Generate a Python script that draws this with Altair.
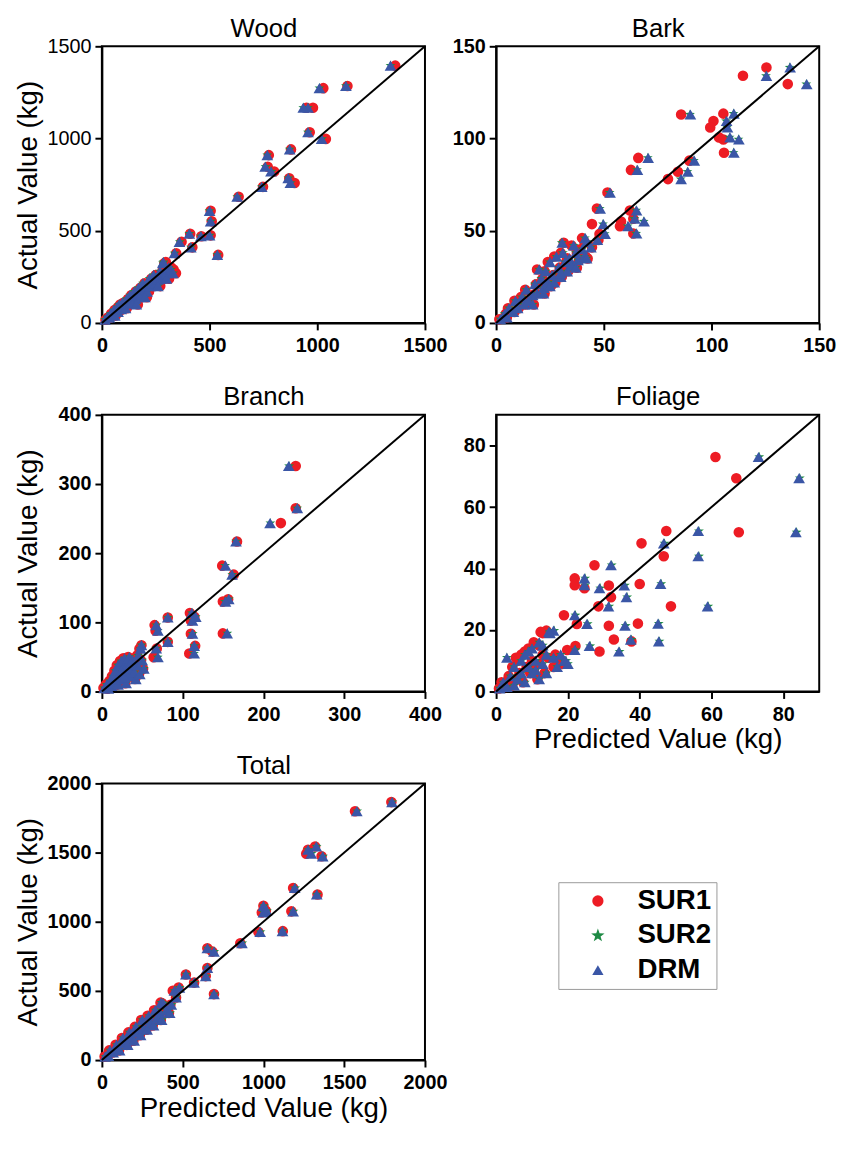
import altair as alt
import pandas as pd

MODELS = ["SUR1", "SUR2", "DRM"]
COLORS = ["#ED1C24", "#1E8A44", "#3A56A6"]
STAR = ("M0,-1.25L0.294,-0.405L1.189,-0.386L0.475,0.155L0.735,1.011L0,0.5"
        "L-0.735,1.011L-0.475,0.155L-1.189,-0.386L-0.294,-0.405Z")
SHAPES = ["circle", STAR, "triangle-up"]
SIZES = [115, 70, 140]
FONT = "Liberation Sans"

# ---------------- Wood ----------------
wood_actual = [1395, 1273, 1285, 1167, 1167, 1034, 998, 941, 910, 847, 821, 785, 759, 738, 684, 608, 551, 475, 470, 484, 440, 410, 369, 378, 324,
               18, 30, 30, 50, 45, 70, 40, 85, 60, 100, 75, 110, 90, 80, 130, 105, 150, 110, 125, 170, 130, 150, 190, 140, 165, 215, 180, 170, 240, 200, 215, 260, 220, 235, 280, 240, 330, 265, 270, 300, 290, 270, 200, 240, 140, 100]
wood_sur1 = [1362, 1028, 1140, 980, 950, 965, 1040, 878, 775, 770, 800, 870, 895, 748, 635, 505, 510, 505, 462, 410, 370, 420, 540, 345, 290,
             17, 28, 38, 43, 53, 59, 64, 74, 79, 85, 95, 100, 105, 116, 121, 126, 136, 141, 147, 157, 162, 172, 178, 183, 193, 198, 209, 219, 229, 235, 245, 250, 261, 271, 281, 287, 297, 302, 312, 323, 333, 344, 271, 312, 209, 167]
wood_sur2 = [1340, 1010, 1133, 957, 935, 957, 1022, 872, 768, 760, 787, 866, 877, 743, 629, 500, 506, 501, 460, 406, 362, 414, 536, 338, 284,
             15, 25, 35, 41, 50, 56, 60, 71, 75, 81, 90, 96, 100, 111, 116, 121, 131, 136, 141, 151, 156, 166, 171, 176, 186, 191, 201, 211, 221, 226, 236, 241, 251, 261, 271, 276, 286, 291, 301, 311, 321, 331, 261, 301, 201, 161]
wood_drm = [1340, 1010, 1133, 957, 935, 957, 1020, 872, 768, 758, 785, 865, 875, 742, 628, 500, 505, 500, 460, 406, 360, 413, 536, 337, 283,
            15, 25, 35, 40, 50, 55, 60, 70, 75, 80, 90, 95, 100, 110, 115, 120, 130, 135, 140, 150, 155, 165, 170, 175, 185, 190, 200, 210, 220, 225, 235, 240, 250, 260, 270, 275, 285, 290, 300, 310, 320, 330, 260, 300, 200, 160]
wood_line = [0, 1500]
wood_ticks = [0, 500, 1000, 1500]

# ---------------- Bark ----------------
bark_actual = [138.5, 134, 129.5, 113, 113.5, 109.5, 106, 100.6, 99.5, 92.3, 89.5, 83, 78, 82, 88, 70.7, 62, 61, 56.5, 55, 52.5, 48.5, 53.6, 46, 48.3, 43.5,
               2, 5, 3, 8, 6, 12, 8, 14, 10, 18, 12, 15, 21, 16, 29, 24, 19, 28, 22, 33, 26, 22, 36, 30, 25, 38, 33, 28, 35, 31, 42, 38, 34, 40, 36, 44, 41, 20, 27, 16, 30, 10, 35, 45]
bark_sur1 = [125.5, 114.6, 135.4, 85.9, 105.5, 100.9, 99.4, 103.5, 105.5, 105.8, 66, 62.6, 79.8, 84.4, 89.7, 51.7, 46.8, 62.1, 63.7, 58, 57.5, 63.7, 44.5, 39.9, 48, 31.4,
             1.5, 4.5, 5, 5.5, 8.5, 8.5, 10.5, 11.5, 13.5, 13.5, 15.5, 16.5, 18.5, 18.5, 19, 21.5, 22.5, 22.5, 24.5, 24, 26.5, 27.5, 27, 29.5, 30.5, 30, 32.5, 33.5, 33, 35.5, 35, 37.5, 38.5, 39, 41.5, 41, 44.5, 25.5, 30.5, 22.5, 37.5, 17.5, 42.5, 47.5]
bark_sur2 = [136.3, 125.3, 144, 90, 110.2, 106.8, 107.2, 108.4, 112.5, 110.2, 70.4, 65.4, 85.7, 88.8, 91.8, 52.7, 48.1, 65, 64.2, 68.5, 61.1, 65, 49.6, 41.2, 50.4, 30.5,
             2, 4, 5, 6, 8, 9, 10, 12, 13, 14, 15, 17, 18, 19, 20, 21, 22, 23, 24, 25, 26, 27, 28, 29, 30, 31, 32, 33, 34, 35, 36, 37, 38, 40, 41, 42, 44, 25, 30, 22, 37, 17, 42, 47]
bark_drm = [136.5, 125.5, 144.2, 90.2, 110.4, 107, 107.4, 108.6, 112.7, 110.4, 70.6, 65.6, 85.9, 89, 92, 52.9, 48.3, 65.2, 64.4, 68.7, 61.3, 65.2, 49.8, 41.4, 50.6, 30.7,
            2, 4, 5, 6, 8, 9, 10, 12, 13, 14, 15, 17, 18, 19, 20, 21, 22, 23, 24, 25, 26, 27, 28, 29, 30, 31, 32, 33, 34, 35, 36, 37, 38, 40, 41, 42, 44, 25, 30, 22, 37, 17, 42, 47]
bark_line = [0, 150]
bark_ticks = [0, 50, 100, 150]

# ---------------- Branch ----------------
branch_actual = [326, 265, 243.5, 217, 182, 169, 133.5, 130, 84, 113.5, 102.5, 108, 83.6, 66, 55, 107, 71.8, 96, 88, 62.3, 49.5, 67,
                 5, 10, 4, 15, 8, 22, 12, 30, 16, 38, 10, 25, 44, 18, 35, 48, 28, 12, 40, 50, 22, 33, 45, 28, 18, 38, 52, 25, 62, 45, 33, 20, 30, 42]
branch_sur1 = [240, 240, 221.6, 167.3, 149, 163.3, 156.3, 149.8, 149.8, 109, 110.2, 114.5, 110.2, 115.5, 108.2, 81.6, 81.6, 65.3, 66.5, 68, 64.1, 49,
               2, 5, 7, 9, 11, 12.5, 14, 15.5, 17, 18.5, 19, 21, 22.5, 24, 25.5, 26.5, 28.5, 29, 30.5, 32.5, 33.5, 35, 36.5, 38.5, 41, 42.5, 43.5, 46, 46.5, 48.5, 51, 27, 23, 35]
branch_sur2 = [231.8, 241.8, 208.6, 166.3, 152.6, 161.5, 157.3, 152.6, 155.3, 111.6, 112.4, 116.1, 112.4, 114.5, 114.1, 81.8, 81.8, 67.5, 69.2, 67.5, 69.2, 49.2,
               3, 6, 8, 10, 12, 14, 15, 17, 18, 20, 20, 22, 24, 25, 27, 28, 30, 30, 32, 34, 35, 36, 38, 40, 42, 44, 45, 47, 48, 50, 52, 28, 24, 36]
branch_drm = [231.4, 242, 208.2, 166.1, 153, 161.2, 157.1, 153, 155.1, 111.4, 112.2, 116.3, 112.2, 114.3, 114.3, 81.6, 81.6, 67.3, 69.4, 67.3, 69.4, 49,
              3, 6, 8, 10, 12, 14, 15, 17, 18, 20, 20, 22, 24, 25, 27, 28, 30, 30, 32, 34, 35, 36, 38, 40, 42, 44, 45, 47, 48, 50, 52, 28, 24, 36]
branch_line = [0, 400]
branch_ticks = [0, 100, 200, 300, 400]

# ---------------- Foliage ----------------
foliage_actual = [76.3, 69.4, 51.8, 52.2, 48.2, 44, 41.1, 36.8, 34.6, 33.6, 34.5, 35, 30.7, 27.7, 27.7, 24.8, 22, 22.1, 21.4, 16.9, 16.3, 14.8, 13, 13.5, 19.4, 19.8, 10,
                  1, 3, 1.5, 11, 5, 2, 8, 4, 10, 6, 3, 12, 8, 6, 14, 10, 4, 16, 9, 12, 6, 19, 11, 8, 12, 10, 9, 15, 7, 13]
foliage_sur1 = [61.1, 66.9, 67.6, 47.4, 40.5, 46.7, 27.4, 21.9, 21.9, 24.6, 31.4, 40, 32, 28.5, 48.7, 18.9, 22.5, 39.5, 31.4, 32.8, 37.7, 22.1, 28.8, 19.8, 12.4, 14, 17,
                0.8, 1.5, 2.5, 5.5, 3.5, 4.5, 4.5, 5.5, 6, 6.5, 7.5, 7, 8.5, 9.5, 9, 10, 11.5, 10.5, 12, 13, 13.5, 13, 14.5, 16, 16.5, 17.5, 18.5, 12, 10.5, 8]
foliage_sur2 = [73.3, 84.6, 83.7, 56.5, 46.9, 56.5, 32.2, 24.8, 24.8, 29, 35.9, 46, 36.5, 31.5, 59.1, 22.1, 25.5, 45.3, 36.1, 37.7, 45.5, 26.2, 34.4, 22.1, 14.9, 16.2, 19.5,
                1, 2, 3, 3, 4, 5, 5, 6, 7, 7, 8, 8, 9, 10, 10, 11, 12, 12, 13, 14, 14, 15, 16, 17, 18, 19, 20, 13, 11, 9]
foliage_drm = [73.1, 84.4, 83.5, 56.3, 46.7, 56.3, 32, 24.6, 24.6, 28.8, 35.7, 45.8, 36.3, 31.3, 58.9, 21.9, 25.3, 45.1, 35.9, 37.5, 45.3, 26, 34.2, 21.9, 14.7, 16, 19.3,
               1, 2, 3, 3, 4, 5, 5, 6, 7, 7, 8, 8, 9, 10, 10, 11, 12, 12, 13, 14, 14, 15, 16, 17, 18, 19, 20, 13, 11, 9]
foliage_line = [0, 90]
foliage_ticks = [0, 20, 40, 60, 80]

# ---------------- Total ----------------
total_actual = [1865, 1799, 1520, 1544, 1492, 1473, 1244, 1197, 1115, 1067, 1079, 1075, 926, 932, 845, 808, 784, 666, 607, 619, 560, 477, 501, 524, 453, 415, 359,
                25, 30, 70, 55, 110, 80, 70, 160, 120, 110, 200, 160, 140, 240, 200, 180, 290, 230, 220, 320, 270, 250, 360, 300, 340, 290, 410, 360, 340, 400]
total_sur1 = [1792, 1567, 1276, 1320, 1265, 1360, 1184, 1335, 1000, 990, 1015, 1173, 969, 1120, 857, 653, 684, 653, 643, 520, 571, 694, 439, 475, 459, 363, 405,
              17, 36, 45, 66, 85, 95, 106, 124, 135, 155, 164, 175, 195, 204, 215, 235, 243, 254, 275, 283, 294, 315, 323, 334, 354, 365, 373, 394, 415, 424]
total_sur2 = [1798, 1580, 1278, 1329, 1298, 1369, 1196, 1332, 1002, 1002, 1022, 1186, 982, 1120, 869, 655, 696, 655, 645, 522, 573, 696, 451, 482, 461, 369, 410,
              22, 42, 52, 72, 92, 102, 112, 132, 142, 162, 172, 182, 202, 212, 222, 242, 252, 262, 282, 292, 302, 322, 332, 342, 362, 372, 382, 402, 422, 432]
total_drm = [1796, 1578, 1276, 1327, 1296, 1367, 1194, 1330, 1000, 1000, 1020, 1184, 980, 1118, 867, 653, 694, 653, 643, 520, 571, 694, 449, 480, 459, 367, 408,
             20, 40, 50, 70, 90, 100, 110, 130, 140, 160, 170, 180, 200, 210, 220, 240, 250, 260, 280, 290, 300, 320, 330, 340, 360, 370, 380, 400, 420, 430]
total_line = [0, 2000]
total_ticks = [0, 500, 1000, 1500, 2000]

W, H = 327, 280


def panel(title, actual, sur1, sur2, drm, line, ticks, x_title, y_title, y_bold):
    common = dict(values=ticks, format="d", grid=False, labelFont=FONT, labelFontSize=20,
                  labelColor="black", tickSize=7, tickWidth=2, tickColor="black",
                  domainColor="black", domainWidth=2, labelFlush=False,
                  labelOverlap=False, titleFont=FONT, titleFontSize=28,
                  titleFontWeight="normal", titleColor="black")
    x_axis = alt.Axis(orient="bottom", title=x_title, labelFontWeight="bold", labelPadding=6,
                      titleY=57, titleBaseline="alphabetic", **common)
    y_axis = alt.Axis(orient="left", title=y_title,
                      labelFontWeight="bold" if y_bold else "normal",
                      labelPadding=4, titleX=-66, titleBaseline="alphabetic", **common)
    top_axis = alt.Axis(orient="top", title=title, labels=False, ticks=False,
                        domain=False, grid=False, titleFont=FONT, titleFontSize=26,
                        titleFontWeight="normal", titleColor="black", titleY=-10,
                        titleBaseline="alphabetic")
    xs = alt.Scale(domain=[line[0], line[1]], nice=False)
    ys = alt.Scale(domain=[line[0], line[1]], nice=False)

    layers = []
    for i, (model, pred, size) in enumerate(zip(MODELS, [sur1, sur2, drm], SIZES)):
        df = pd.DataFrame({"Predicted": pred, "Actual": actual, "Model": model})
        first = i == 0
        layers.append(
            alt.Chart(df).mark_point(filled=True, opacity=1, size=size).encode(
                x=alt.X("Predicted:Q", scale=xs, axis=x_axis if first else None),
                y=alt.Y("Actual:Q", scale=ys, axis=y_axis),
                color=alt.Color("Model:N", scale=alt.Scale(domain=MODELS, range=COLORS),
                                legend=alt.Legend(title=None)),
                shape=alt.Shape("Model:N", scale=alt.Scale(domain=MODELS, range=SHAPES),
                                legend=alt.Legend(title=None)),
            )
        )
    line_df = pd.DataFrame({"Predicted": line, "Actual": line})
    ln = alt.Chart(line_df).mark_line(color="black", strokeWidth=2).encode(
        x=alt.X("Predicted:Q", scale=xs, axis=top_axis),
        y=alt.Y("Actual:Q", scale=ys, axis=y_axis),
    )
    layers.append(ln)
    return alt.layer(*layers).properties(width=W, height=H)


YT = "Actual Value (kg)"
XT = "Predicted Value (kg)"
wood = panel("Wood", wood_actual, wood_sur1, wood_sur2, wood_drm, wood_line, wood_ticks, None, YT, False)
bark = panel("Bark", bark_actual, bark_sur1, bark_sur2, bark_drm, bark_line, bark_ticks, None, None, True)
branch = panel("Branch", branch_actual, branch_sur1, branch_sur2, branch_drm, branch_line, branch_ticks, None, YT, True)
foliage = panel("Foliage", foliage_actual, foliage_sur1, foliage_sur2, foliage_drm, foliage_line, foliage_ticks, XT, None, True)
total = panel("Total", total_actual, total_sur1, total_sur2, total_drm, total_line, total_ticks, XT, YT, True)

chart = alt.concat(
    wood, bark, branch, foliage, total,
    columns=2, spacing={"row": 93, "column": 72}, bounds="flush",
).properties(
    padding={"left": 5, "top": 0, "right": 0, "bottom": 0},
).configure_view(
    stroke="black", strokeWidth=2,
).configure_legend(
    orient="none", legendX=462, legendY=846,
    strokeColor="#999999", fillColor="white", padding=5,
    labelFont=FONT, labelFontSize=28, labelFontWeight="bold", labelColor="black",
    rowPadding=7, symbolOffset=21, labelOffset=26, symbolSize=130,
)

chart.save("out.html", embed_options={"renderer": "svg", "actions": False})
